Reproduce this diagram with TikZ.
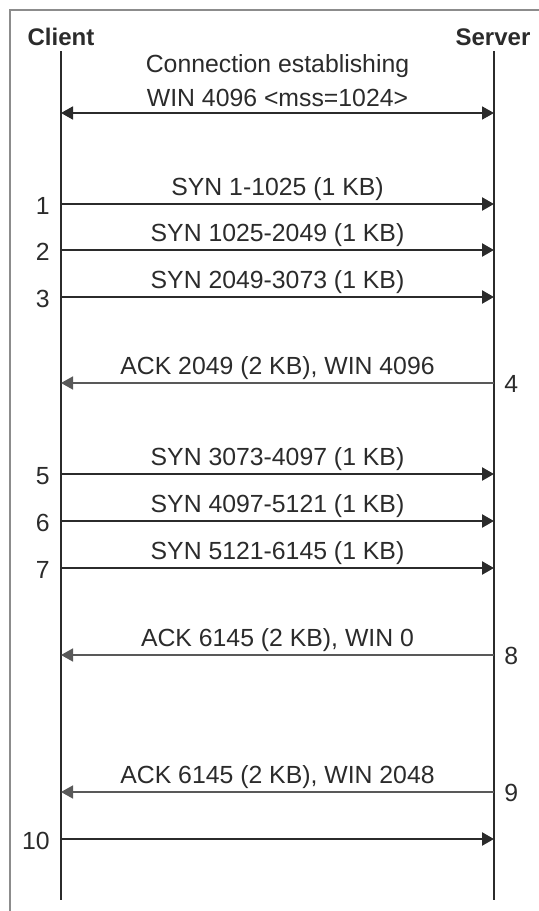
\documentclass[tikz,border=0pt]{standalone}
\usepackage{fontspec}
\setmainfont{Liberation Sans}
\usepackage{tikz}
\usetikzlibrary{arrows.meta}
\definecolor{inkgray}{HTML}{2B2B2B}
\definecolor{framegray}{HTML}{8C8C8C}
\tikzset{
  head/.style={font=\fontsize{12}{14}\selectfont\bfseries, text=inkgray, inner sep=0pt},
  msglabel/.style={font=\fontsize{12.4}{15}\selectfont, text=inkgray, inner sep=0pt, anchor=base},
  stepnum/.style={font=\fontsize{12.4}{15}\selectfont, text=inkgray, inner sep=0pt},
  lifeline/.style={line width=1.35pt, draw=inkgray},
  tip/.style={-{Triangle[length=6pt, width=6.5pt]}},
  syn/.style={tip, line width=1.2pt, draw=inkgray, fill=inkgray},
  ack/.style={tip, line width=0.8pt, draw=black!65, fill=inkgray},
}

\begin{document}
\begin{tikzpicture}[x=0.5pt, y=-0.5pt]
    \useasboundingbox (0,0) rectangle (539,911);
    % Frame
    \draw[framegray, line width=1pt] (10,911) |- (539,10);

    % Nodes
    \node (client) at (61, 37) [head] {Client};
    \node (server) at (493, 37) [head] {Server};

    \coordinate (ctop) at (61, 51);
    \coordinate (cbot) at (61, 900);
    \coordinate (stop) at (494, 51);
    \coordinate (sbot) at (494, 900);

    \coordinate (c0) at (61, 113);   \coordinate (s0) at (494, 113);
    \coordinate (c1) at (61, 204);   \coordinate (s1) at (494, 204);
    \coordinate (c2) at (61, 250);   \coordinate (s2) at (494, 250);
    \coordinate (c3) at (61, 297);   \coordinate (s3) at (494, 297);
    \coordinate (c4) at (61, 383);   \coordinate (s4) at (494, 383);
    \coordinate (c5) at (61, 474);   \coordinate (s5) at (494, 474);
    \coordinate (c6) at (61, 521);   \coordinate (s6) at (494, 521);
    \coordinate (c7) at (61, 568);   \coordinate (s7) at (494, 568);
    \coordinate (c8) at (61, 655);   \coordinate (s8) at (494, 655);
    \coordinate (c9) at (61, 792);   \coordinate (s9) at (494, 792);
    \coordinate (c10) at (61, 839);  \coordinate (s10) at (494, 839);

    \node (conn1) at (277.5, 72) [msglabel] {Connection establishing};
    \node (conn2) at (277.5, 106) [msglabel] {WIN 4096 <mss=1024>};

    \node (l1) at (277.5, 195) [msglabel] {SYN 1-1025 (1 KB)};
    \node (l2) at (277.5, 241) [msglabel] {SYN 1025-2049 (1 KB)};
    \node (l3) at (277.5, 288) [msglabel] {SYN 2049-3073 (1 KB)};
    \node (l4) at (277.5, 374) [msglabel] {ACK 2049 (2 KB), WIN 4096};
    \node (l5) at (277.5, 465) [msglabel] {SYN 3073-4097 (1 KB)};
    \node (l6) at (277.5, 512) [msglabel] {SYN 4097-5121 (1 KB)};
    \node (l7) at (277.5, 559) [msglabel] {SYN 5121-6145 (1 KB)};
    \node (l8) at (277.5, 646) [msglabel] {ACK 6145 (2 KB), WIN 0};
    \node (l9) at (277.5, 783) [msglabel] {ACK 6145 (2 KB), WIN 2048};

    \node (n1) at (50, 206) [stepnum, anchor=east] {1};
    \node (n2) at (50, 252) [stepnum, anchor=east] {2};
    \node (n3) at (50, 299) [stepnum, anchor=east] {3};
    \node (n4) at (504, 384) [stepnum, anchor=west] {4};
    \node (n5) at (50, 476) [stepnum, anchor=east] {5};
    \node (n6) at (50, 523) [stepnum, anchor=east] {6};
    \node (n7) at (50, 570) [stepnum, anchor=east] {7};
    \node (n8) at (504, 656) [stepnum, anchor=west] {8};
    \node (n9) at (504, 793) [stepnum, anchor=west] {9};
    \node (n10) at (50, 841) [stepnum, anchor=east] {10};

    % Edges
    \draw[lifeline] (ctop) -- (cbot);
    \draw[lifeline] (stop) -- (sbot);

    \draw[syn, {Triangle[length=6pt, width=6.5pt]}-{Triangle[length=6pt, width=6.5pt]}, line width=0.9pt] (c0) -- (s0);
    \draw[syn] (c1) -- (s1);
    \draw[syn] (c2) -- (s2);
    \draw[syn] (c3) -- (s3);
    \draw[ack] (s4) -- (c4);
    \draw[syn] (c5) -- (s5);
    \draw[syn] (c6) -- (s6);
    \draw[syn] (c7) -- (s7);
    \draw[ack] (s8) -- (c8);
    \draw[ack] (s9) -- (c9);
    \draw[syn] (c10) -- (s10);

\end{tikzpicture}
\end{document}
